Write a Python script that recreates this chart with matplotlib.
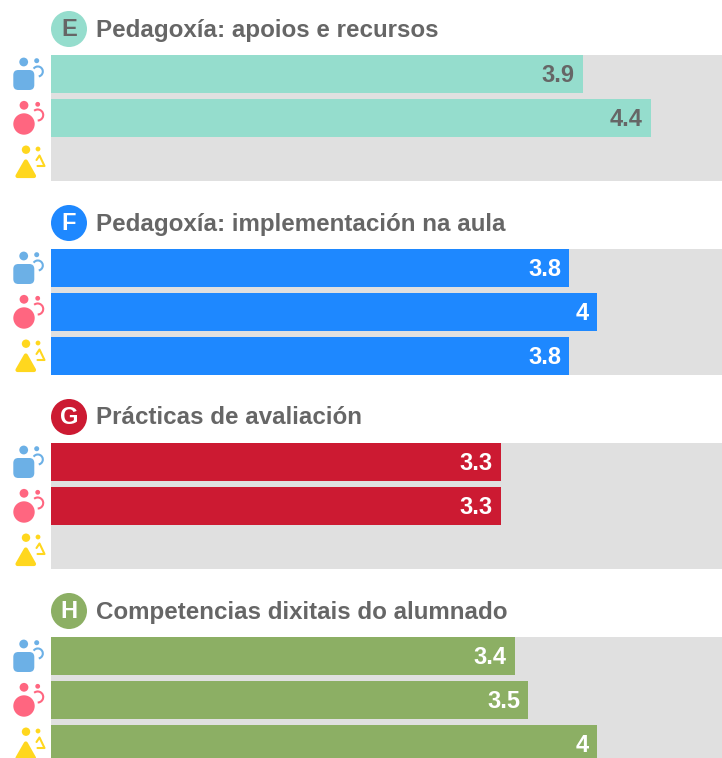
import matplotlib
matplotlib.use("Agg")
import matplotlib.pyplot as plt
from matplotlib.patches import Circle, FancyBboxPatch, Polygon, Arc

W, H = 722, 758
letters = ["E", "F", "G", "H"]
titles = ["Pedagoxía: apoios e recursos", "Pedagoxía: implementación na aula",
          "Prácticas de avaliación", "Competencias dixitais do alumnado"]
colors = ["#95DDCD", "#1E88FF", "#CC1A32", "#8CAF64"]
label_colors = ["#666666", "#FFFFFF", "#FFFFFF", "#FFFFFF"]
letter_colors = ["#666666", "#FFFFFF", "#FFFFFF", "#FFFFFF"]
values_a = [3.9, 3.8, 3.3, 3.4]
values_b = [4.4, 4.0, 3.3, 3.5]
values_c = [None, 3.8, None, 4.0]
value_labels_a = ["3.9", "3.8", "3.3", "3.4"]
value_labels_b = ["4.4", "4", "3.3", "3.5"]
value_labels_c = [None, "3.8", None, "4"]
XMAX = 671 / 136.4

plt.rcParams["font.family"] = ["Liberation Sans", "DejaVu Sans"]
fig = plt.figure(figsize=(W / 100, H / 100), dpi=100, facecolor="white")

bg = fig.add_axes([0, 0, 1, 1])
bg.set_xlim(0, W); bg.set_ylim(H, 0); bg.axis("off")

ax = fig.add_axes([51 / W, 0, 671 / W, 1])
ax.set_xlim(0, XMAX); ax.set_ylim(H, 0); ax.axis("off")
ax.patch.set_alpha(0)

BLUE, RED, YEL = "#6CB0E6", "#FF6680", "#FFD71E"

def icons(o):
    # blue person
    bg.add_patch(Circle((23.7, 62 + o), 4.4, fc=BLUE, ec="none"))
    bg.add_patch(Circle((36.7, 60.7 + o), 2.5, fc=BLUE, ec="none"))
    bg.add_patch(FancyBboxPatch((17.3, 74 + o), 13, 12, boxstyle="round,pad=4,rounding_size=5", fc=BLUE, ec="none"))
    bg.add_patch(Arc((37.8, 71.5 + o), 10, 10, theta1=-146, theta2=79, ec=BLUE, lw=1.5))
    # red person
    bg.add_patch(Circle((24, 105.3 + o), 4.4, fc=RED, ec="none"))
    bg.add_patch(Circle((37.7, 104.3 + o), 2.4, fc=RED, ec="none"))
    bg.add_patch(Circle((24, 124 + o), 10.7, fc=RED, ec="none"))
    bg.add_patch(Arc((37.7, 115 + o), 11, 11, theta1=-130, theta2=90, ec=RED, lw=1.5))
    # yellow person
    bg.add_patch(Circle((26, 149.7 + o), 4.2, fc=YEL, ec="none"))
    bg.add_patch(Circle((38, 149 + o), 2.4, fc=YEL, ec="none"))
    bg.add_patch(Polygon([(25.8, 161.5 + o), (17.5, 176 + o), (34, 176 + o)], closed=True,
                         fc=YEL, ec=YEL, lw=3, joinstyle="round"))
    bg.plot([36.5, 39.5, 44.5, 37.5], [160 + o, 155.5 + o, 166 + o, 166 + o], color=YEL, lw=1.5,
            solid_capstyle="round", solid_joinstyle="round")

for i in range(4):
    o = 194 * i
    bg.add_patch(Circle((69, 29 + o), 18, fc=colors[i], ec="none"))
    bg.text(69, 30 + o, letters[i], color=letter_colors[i], fontsize=17, fontweight="bold",
            ha="center", va="center")
    bg.text(95.5, 30 + o, titles[i], color="#666666", fontsize=17.35, fontweight="bold",
            ha="left", va="center")
    ax.barh(55 + o + 63, XMAX, height=126, color="#E0E0E0", linewidth=0)
    icons(o)
    rows = [(values_a[i], value_labels_a[i], 74), (values_b[i], value_labels_b[i], 118),
            (values_c[i], value_labels_c[i], 162)]
    for v, lab, yc in rows:
        if v is None:
            continue
        ax.barh(yc + o, v, height=38, color=colors[i], linewidth=0)
        ax.annotate(lab, (v, yc + o), xytext=(-6, -1), textcoords="offset points", ha="right",
                    va="center", color=label_colors[i], fontsize=17, fontweight="bold")

fig.savefig("out.png", dpi=100)
